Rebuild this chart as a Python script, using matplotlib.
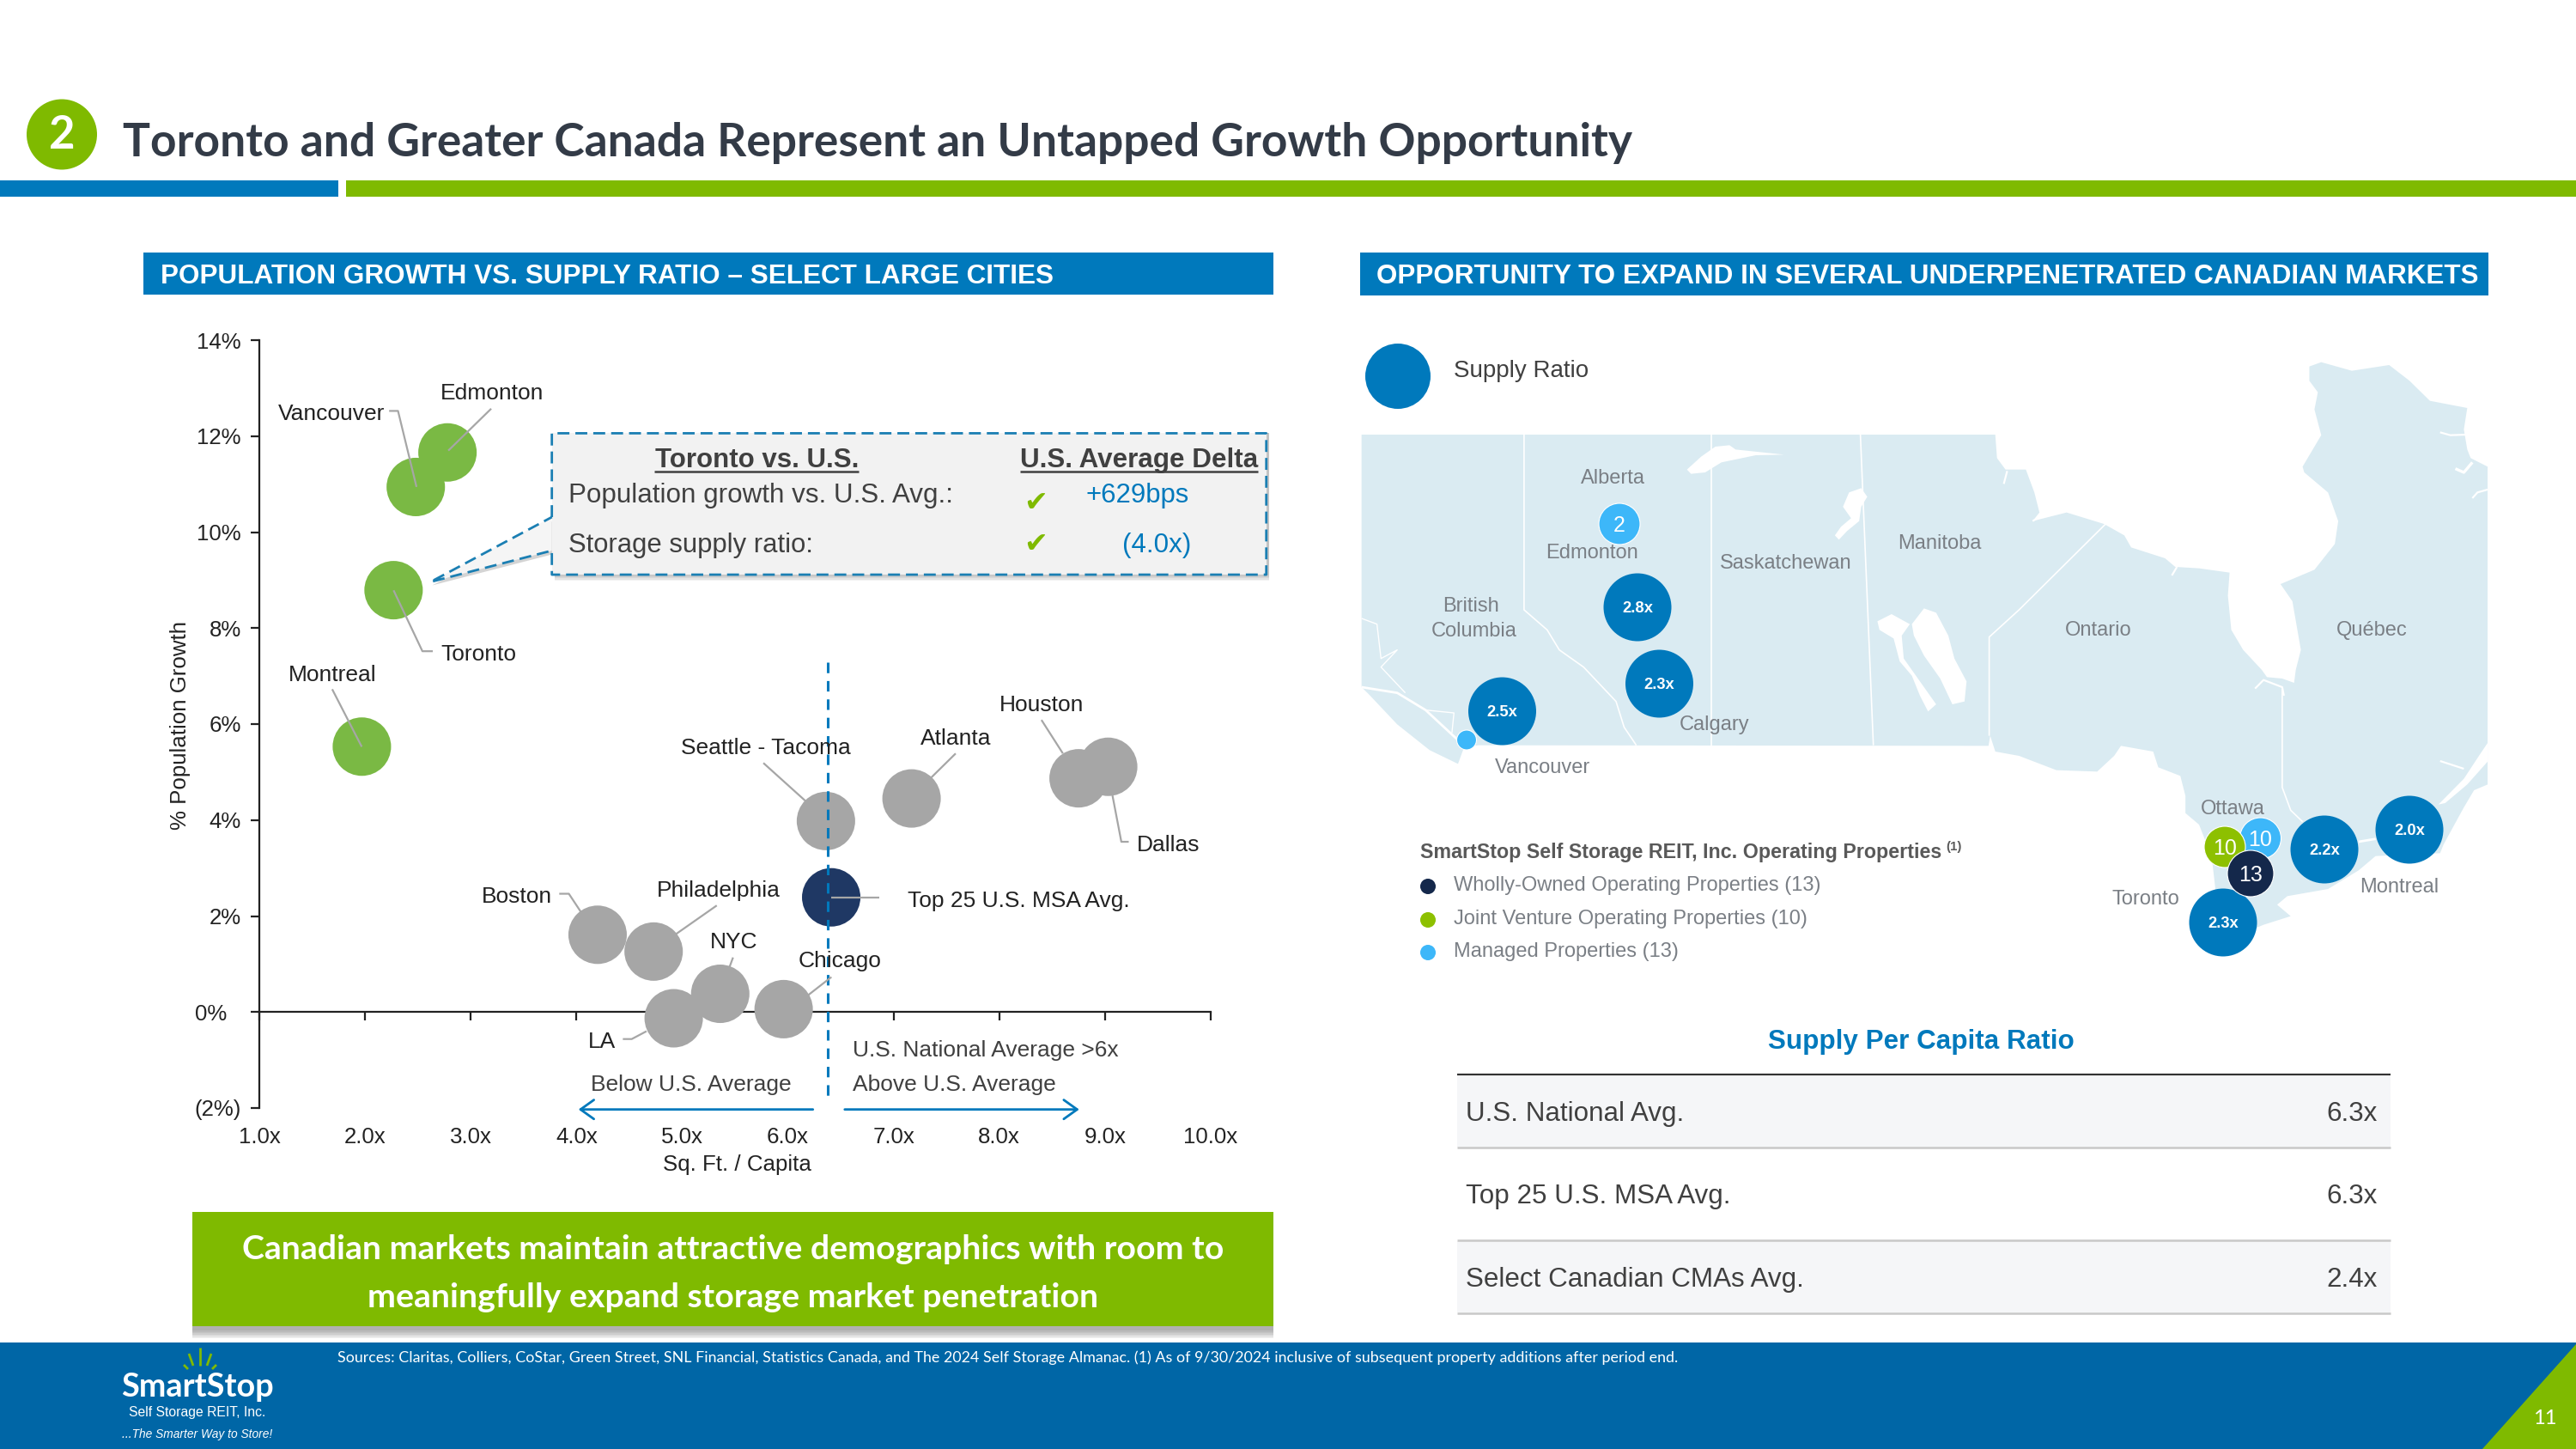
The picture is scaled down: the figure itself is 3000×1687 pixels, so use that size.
import matplotlib
matplotlib.use("Agg")
import matplotlib.pyplot as plt
from matplotlib.patches import Circle, Rectangle, Polygon, FancyArrowPatch
from matplotlib.transforms import ScaledTranslation

# ---------- data ----------
cities = ["Edmonton", "Vancouver", "Toronto", "Montreal", "Seattle - Tacoma", "Atlanta", "Houston", "Dallas",
          "Top 25 U.S. MSA Avg.", "Boston", "Philadelphia", "NYC", "LA", "Chicago"]
sqft_per_capita = [2.78, 2.48, 2.27, 1.97, 6.36, 7.17, 8.75, 9.03, 6.41, 4.20, 4.73, 5.36, 4.92, 5.96]
pop_growth = [11.66, 10.94, 8.79, 5.53, 3.98, 4.45, 4.87, 5.11, 2.39, 1.61, 1.26, 0.38, -0.13, 0.06]
groups = ["ca", "ca", "ca", "ca", "us", "us", "us", "us", "avg", "us", "us", "us", "us", "us"]
x_ticks = [1, 2, 3, 4, 5, 6, 7, 8, 9, 10]
x_tick_labels = ["1.0x", "2.0x", "3.0x", "4.0x", "5.0x", "6.0x", "7.0x", "8.0x", "9.0x", "10.0x"]
y_ticks = [-2, 0, 2, 4, 6, 8, 10, 12, 14]
y_tick_labels = ["(2%)", "0%", "2%", "4%", "6%", "8%", "10%", "12%", "14%"]
table_rows = ["U.S. National Avg.", "Top 25 U.S. MSA Avg.", "Select Canadian CMAs Avg."]
table_values = ["6.3x", "6.3x", "2.4x"]
legend_entries = ["Wholly-Owned Operating Properties (13)", "Joint Venture Operating Properties (10)",
                  "Managed Properties (13)"]
map_ratio_labels = ["2.8x", "2.3x", "2.5x", "2.0x", "2.2x", "2.3x"]
map_count_labels = ["2", "", "13", "10", "10"]

BLUE = "#0079BC"; GREEN = "#7FBA00"; DARK = "#333B47"
FOOT = "#0066A6"; MAPC = "#DAEBF2"; NAVY = "#14284B"; SKY = "#3DB7F9"; LIME = "#8DC000"
colors = {"ca": "#7AB944", "us": "#A6A6A6", "avg": "#1F3864"}
SANS = "Liberation Sans"
FS = 9.5

fig = plt.figure(figsize=(15, 8.435), dpi=200, facecolor="white")
W, H = 3000, 1687
plt.rcParams["font.family"] = SANS

# ---------- chart ----------
L, R, T, B = 302, 1410, 396, 1290
ax = fig.add_axes([L / W, 1 - B / H, (R - L) / W, (B - T) / H])
ax.set_xlim(1, 10); ax.set_ylim(-2, 14)
ax.patch.set_alpha(0)
for s in ("top", "right"):
    ax.spines[s].set_visible(False)
ax.spines["bottom"].set_position(("data", 0))
for s in ("bottom", "left"):
    ax.spines[s].set_linewidth(0.8); ax.spines[s].set_color("#222222")
ax.set_xticks(x_ticks); ax.set_xticklabels(x_tick_labels, fontsize=9.3, color="#222222")
ax.set_yticks(y_ticks); ax.set_yticklabels(y_tick_labels, fontsize=9.3, color="#222222")
ax.tick_params(axis="x", length=3.6, width=0.8, pad=44.5, color="#222222")
ax.tick_params(axis="y", length=3.6, width=0.8, pad=4, color="#222222")
for lab, s in zip(ax.get_yticklabels(), y_tick_labels):
    if s == "0%":
        lab.set_transform(lab.get_transform() + ScaledTranslation(-6 / 72, 0, fig.dpi_scale_trans))
ax.scatter(sqft_per_capita, pop_growth, s=600, c=[colors[g] for g in groups], linewidths=0, zorder=3, clip_on=False)

# ---------- overlay in pixel coordinates ----------
ov = fig.add_axes([0, 0, 1, 1], zorder=5)
ov.set_xlim(0, W); ov.set_ylim(H, 0); ov.axis("off"); ov.patch.set_alpha(0)
renderer = fig.canvas.get_renderer()


def z1(x, y):
    return 150 + x / 1.161, 360 + y / 1.537


def z2(x, y):
    return 1570 + x / 1.12, 370 + y / 2.01


def ze1(x, y):
    return 2300 + x / 2.529, 400 + y / 3


def ze2(x, y):
    return 2300 + x / 2.529, 780 + y / 3


def zw(x, y):
    return 1580 + x / 2.119, 500 + y / 3


def txt(x, y, s, size=FS, color="#222222", ha="center", va="center", width=None, **kw):
    t = ov.text(x, y + 2, s, fontsize=size, color=color, ha=ha, va=va, family=kw.pop("family", SANS), **kw)
    if width:
        w = t.get_window_extent(renderer).width
        t.set_fontsize(size * width / w)
    return t


def rect(x0, y0, x1, y1, color, **kw):
    ov.add_patch(Rectangle((x0, y0), x1 - x0, y1 - y0, facecolor=color, edgecolor="none", **kw))


def shadow(x0, y0, x1, y1, offx=2, offy=7, n=7):
    for i in range(n):
        rect(x0 + offx, y0, x1 + offx, y1 + offy + i * 1.5 - 3, "#444444", alpha=0.07)


def line(pts, color="#A6A6A6", lw=0.8, **kw):
    ov.plot([p[0] for p in pts], [p[1] for p in pts], color=color, lw=lw, solid_capstyle="butt", **kw)


# header
ov.add_patch(Circle((72, 156.5), 41, facecolor=GREEN, edgecolor="none"))
txt(72, 155, "2", size=19, color="white", family="Lato", fontweight="bold")
txt(143, 164, "Toronto and Greater Canada Represent an Untapped Growth Opportunity", size=20, color=DARK,
    ha="left", family="Lato", fontweight="bold", width=1761)
rect(0, 210, 394, 228.5, BLUE)
rect(403, 210, W, 228.5, GREEN)

# section headers
rect(167, 294, 1483, 343, BLUE)
rect(1584, 294, 2898, 344, BLUE)
txt(187, 320, "POPULATION GROWTH VS. SUPPLY RATIO – SELECT LARGE CITIES", size=11, color="white", ha="left",
    fontweight="bold", width=1039)
txt(1603, 319.5, "OPPORTUNITY TO EXPAND IN SEVERAL UNDERPENETRATED CANADIAN MARKETS", size=11, color="white",
    ha="left", fontweight="bold", width=1278)

# chart annotations
labels = {
    "Edmonton": ((491, 148), [(490, 178), (432, 253)]),
    "Vancouver": ((274, 184), [(352, 182), (364, 182), (389, 318)]),
    "Toronto": ((473, 615), [(358, 503), (397, 612), (411, 612)]),
    "Montreal": ((275, 652), [(275, 680), (315, 783)]),
    "Seattle - Tacoma": ((861, 783), [(858, 812), (915, 880)]),
    "Atlanta": ((1118, 766), [(1118, 795), (1085, 838)]),
    "Houston": ((1234, 706), [(1234, 735), (1263, 795)]),
    "Dallas": ((1405, 956), [(1330, 870), (1342, 953), (1352, 953)]),
    "Top 25 U.S. MSA Avg.": ((1203, 1056), [(950, 1053), (1015, 1053)]),
    "Boston": ((525, 1049), [(582, 1046), (595, 1046), (612, 1080)]),
    "Philadelphia": ((797, 1038), [(795, 1067), (740, 1118)]),
    "NYC": ((818, 1130), [(817, 1160), (812, 1178)]),
    "Chicago": ((961, 1163), [(950, 1195), (918, 1228)]),
    "LA": ((640, 1308), [(668, 1306), (680, 1306), (700, 1292)]),
}
line([z1(945, 632), z1(945, 1420)], color=BLUE, lw=1.1, linestyle=(0, (4, 3)))
for c in cities:
    (lx, ly), pts = labels[c]
    line([z1(*p) for p in pts])
    txt(*z1(lx, ly), c)
for x, y, s in [(1158, 1323, "U.S. National Average >6x"), (1116, 1385, "Above U.S. Average"),
                (760, 1385, "Below U.S. Average")]:
    txt(*z1(x, y), s, color="#404040")
for a, b in [((925, 1432), (608, 1432)), ((968, 1432), (1285, 1432))]:
    ov.add_patch(FancyArrowPatch(z1(*a), z1(*b), arrowstyle="->,head_length=3.5,head_width=2.5", color=BLUE,
                                 lw=1.0, shrinkA=0, shrinkB=0, mutation_scale=1.6))
txt(*z1(70, 742), "% Population Growth", size=9.3, rotation=90)
txt(*z1(822, 1528), "Sq. Ft. / Capita", size=9.3)

# callout
bx0, by0 = z1(572, 222); bx1, by1 = z1(1538, 475)
shadow(bx0, by0, bx1, by1, offx=3, offy=4, n=5)
ptr = [z1(572, 372), z1(408, 488), z1(572, 432)]
ov.add_patch(Polygon([(p[0] + 2, p[1] + 4) for p in ptr], closed=True, facecolor="#555555", alpha=0.25, edgecolor="none"))
ov.add_patch(Polygon(ptr, closed=True, facecolor="#F5F5F5", edgecolor="none"))
rect(bx0, by0, bx1, by1, "#F2F2F2")
dash = dict(color="#1B7FB3", lw=1.0, linestyle=(0, (5, 2.5)))
line([z1(572, 372), z1(572, 222), z1(1538, 222), z1(1538, 475), z1(572, 475), z1(572, 432), z1(408, 488),
      z1(572, 372)], **dash)
for (x, y), s, w in [((849, 267), "Toronto vs. U.S.", 238), ((1366, 267), "U.S. Average Delta", 277)]:
    txt(*z1(x, y), s, size=10.5, color="#404040", fontweight="bold", width=w)
    cx, cy = z1(x, y)
    line([(cx - w / 2, cy + 15), (cx + w / 2, cy + 15)], color="#404040", lw=0.9)
txt(*z1(594, 330), "Population growth vs. U.S. Avg.:", size=10.5, color="#404040", ha="left", width=447)
txt(*z1(594, 420), "Storage supply ratio:", size=10.5, color="#404040", ha="left", width=285)
for y in (343, 417):
    txt(*z1(1226, y), "\u2714", size=12, color=GREEN, family="DejaVu Sans")
txt(*z1(1364, 330), "+629bps", size=10.5, color=BLUE, width=120)
txt(*z1(1390, 420), "(4.0x)", size=10.5, color=BLUE, width=80)

# green banner
shadow(224, 1411, 1483, 1544, offx=0, offy=8)
rect(224, 1411, 1483, 1544, GREEN)
txt(854, 1453, "Canadian markets maintain attractive demographics with room to", size=14, color="white",
    family="Lato", fontweight="bold", width=1144)
txt(854, 1508, "meaningfully expand storage market penetration", size=14, color="white", family="Lato",
    fontweight="bold", width=850)

# ---------- map ----------
ov.add_patch(Circle((1628, 438), 38, facecolor=BLUE, edgecolor="none"))
txt(1693, 429.5, "Supply Ratio", size=10, color="#404040", ha="left")

outline = [zw(*p) for p in [(12, 18)]]
outline += [ze1(*p) for p in [
    (60, 318), (60, 320), (65, 400), (90, 440), (150, 440), (175, 520), (190, 590), (170, 620), (270, 590),
    (380, 630), (440, 670), (460, 712), (560, 750), (590, 780), (660, 785), (750, 800), (745, 880), (755, 1000),
    (790, 1070), (845, 1140)]]
outline += [ze2(*p) for p in [(860, 25), (905, 30), (940, 45), (945, 0)]]
outline += [ze1(*p) for p in [
    (960, 1070), (935, 900), (900, 840), (1000, 790), (1060, 700), (1070, 620), (1040, 520), (970, 450),
    (965, 430), (1020, 320), (1000, 230), (1010, 170), (985, 130), (985, 80), (1020, 65), (1110, 95), (1220, 75),
    (1280, 130), (1340, 200), (1450, 225), (1440, 300), (1450, 370), (1460, 400), (1510, 430)]]
outline += [ze2(*p) for p in [
    (1510, 0), (1510, 400), (1470, 420), (1440, 480), (1380, 610), (1370, 640), (1180, 650), (1130, 700),
    (1040, 765), (920, 790), (890, 820), (930, 860), (850, 890), (830, 900), (730, 990), (700, 680), (680, 600),
    (660, 540), (620, 500), (620, 440), (605, 370), (540, 340), (525, 285), (430, 265), (410, 300), (360, 355),
    (240, 350), (130, 300), (60, 285), (45, 230), (40, 265)]]
outline += [zw(*p) for p in [(300, 1103), (265, 1110), (250, 1168), (180, 1120), (100, 1030), (30, 925), (12, 900)]]
ov.add_patch(Polygon(outline, closed=True, facecolor=MAPC, edgecolor="none"))

lakes_w = [
    [(815, 140), (850, 95), (885, 60), (920, 55), (935, 70), (1055, 88), (985, 90), (900, 115), (860, 150), (825, 155)],
    [(1180, 370), (1195, 340), (1220, 310), (1200, 270), (1215, 220), (1245, 205), (1260, 235), (1245, 270),
     (1240, 320), (1210, 355), (1190, 385)],
    [(1370, 680), (1400, 625), (1430, 640), (1460, 720), (1475, 800), (1505, 880), (1500, 950), (1470, 960),
     (1440, 870), (1400, 790), (1375, 720)],
    [(1285, 670), (1320, 645), (1365, 680), (1345, 720), (1350, 800), (1380, 860), (1430, 960), (1410, 985),
     (1390, 930), (1370, 860), (1340, 810), (1325, 730), (1290, 700)]]
for lk in lakes_w:
    ov.add_patch(Polygon([zw(*p) for p in lk], closed=True, facecolor="white", edgecolor="none"))
ov.add_patch(Polygon([ze2(*p) for p in [(1365, 470), (1440, 380), (1490, 290), (1510, 255), (1510, 320), (1450, 400),
                                        (1385, 465)]], closed=True, facecolor="white", edgecolor="none"))
line([zw(*p) for p in [(12, 900), (100, 920), (170, 980), (250, 1085)]], color="white", lw=1.0)
line([zw(*p) for p in [(12, 660), (50, 680), (60, 800), (100, 770), (60, 830), (120, 920)]], color="white", lw=0.5)
line([zw(*p) for p in [(170, 980), (240, 990), (235, 1060)]], color="white", lw=0.5)
line([ze1(*p) for p in [(1370, 310), (1400, 320), (1450, 318)]], color="white", lw=0.8)
line([ze1(*p) for p in [(1415, 437), (1440, 450), (1465, 415)]], color="white", lw=1.2)
line([ze1(*p) for p in [(1465, 540), (1480, 520), (1510, 510)]], color="white", lw=0.8)
line([ze1(*p) for p in [(170, 620), (190, 605)]], color="white", lw=0.8)
line([ze1(*p) for p in [(85, 490), (95, 445)]], color="white", lw=0.8)
line([ze1(*p) for p in [(580, 810), (595, 780)]], color="white", lw=0.8)
line([ze2(*p) for p in [(1370, 318), (1440, 345)]], color="white", lw=0.8)
line([ze2(*p) for p in [(825, 65), (850, 35), (905, 60), (910, 90)]], color="white", lw=0.8)
line([ze2(*p) for p in [(1130, 600), (1180, 590)]], color="white", lw=1.0)
borders = [
    [zw(*p) for p in [(413, 18), (413, 630), (470, 700), (500, 770), (560, 830), (640, 950), (660, 1040), (690, 1103)]],
    [zw(*p) for p in [(876, 18), (876, 1103)]],
    [zw(*p) for p in [(1243, 18), (1275, 1103)]],
    [ze1(*p) for p in [(385, 630), (130, 930), (42, 1025)]] + [ze2(*p) for p in [(42, 0), (42, 230)]],
    [ze2(*p) for p in [(905, 60), (905, 410), (930, 490), (965, 530)]],
]
for b in borders:
    line(b, color="white", lw=0.6)

for x, y, s in [(346, 372, "Alberta"), (318, 546, "Edmonton"), (571, 571, "Saskatchewan"), (771, 525, "Manitoba"),
                (160, 672, "British"), (164, 729, "Columbia"), (978, 727, "Ontario"), (1335, 727, "Québec"),
                (478, 949, "Calgary"), (254, 1050, "Vancouver"), (1154, 1145, "Ottawa"), (1040, 1357, "Toronto"),
                (1371, 1328, "Montreal")]:
    txt(*z2(x, y), s, size=8.5, color="#7A7F85")

ratio_pos = [(1907, 707), (1932.5, 796), (1749.5, 828), (2806, 966), (2707, 989), (2589, 1074)]
for (x, y), s in zip(ratio_pos, map_ratio_labels):
    ov.add_patch(Circle((x, y), 39.5, facecolor=BLUE, edgecolor="none", zorder=4))
    txt(x, y - 1, s, size=6.6, color="white", fontweight="bold", zorder=5)
count_pos = [(1886, 610), (1708, 861.5), (2621, 1017), (2591, 986), (2632.5, 976)]
count_col = [SKY, SKY, NAVY, LIME, SKY]
count_rad = [24, 11.5, 27, 24, 24]
order = [0, 1, 4, 3, 2]
for i in order:
    ov.add_patch(Circle(count_pos[i], count_rad[i], facecolor=count_col[i], edgecolor="white", lw=0.4, zorder=4))
    txt(*count_pos[i], map_count_labels[i], size=9, color="white", zorder=5)

# map legend
txt(1654, 990, "SmartStop Self Storage REIT, Inc. Operating Properties", size=7.3, color="#595959", ha="left",
    fontweight="bold", width=607)
txt(2275, 984, "(1)", size=5.4, color="#595959", ha="center", fontweight="bold")
for y, s, c in zip((1029, 1068, 1106), legend_entries, (NAVY, LIME, SKY)):
    ov.add_patch(Circle((1663, y + 3), 9, facecolor=c, edgecolor="none"))
    txt(1693, y, s, size=8.5, color="#7A7F85", ha="left")

# ---------- table ----------
txt(2237, 1211, "Supply Per Capita Ratio", size=11.3, color=BLUE, fontweight="bold")
rect(1697, 1253, 2784, 1336, "#F5F6F8")
rect(1697, 1445, 2784, 1528, "#F5F6F8")
line([(1697, 1251), (2784, 1251)], color="#333333", lw=0.8)
for y in (1336, 1444, 1529):
    line([(1697, y), (2784, y)], color="#C8C8C8", lw=0.9)
for y, a, b in zip((1295, 1391, 1488), table_rows, table_values):
    txt(1707, y, a, size=11.3, color="#404040", ha="left")
    txt(2769, y, b, size=11.3, color="#404040", ha="right")

# ---------- footer ----------
rect(0, 1563, W, H, FOOT)
ov.add_patch(Polygon([(W, 1565), (W, H), (2891, H)], closed=True, facecolor=GREEN, edgecolor="none"))
txt(2964, 1649, "11", size=8.5, color="white", family="Lato")
txt(393, 1579, "Sources: Claritas, Colliers, CoStar, Green Street, SNL Financial, Statistics Canada, and The 2024 "
    "Self Storage Almanac. (1) As of 9/30/2024 inclusive of subsequent property additions after period end.",
    size=5.5, color="white", ha="left", family="Lato", width=1563)
txt(230, 1613, "SmartStop", size=14, color="white", family="Lato", fontweight="bold", width=178)
txt(230, 1643, "Self Storage REIT, Inc.", size=6, color="white", width=160)
txt(230, 1668, "...The Smarter Way to Store!", size=5, color="white", style="italic", width=175)
for dx0, dy0, dx1, dy1 in [(233, 1590, 233, 1569), (225, 1590, 220, 1576), (241, 1590, 246, 1576),
                           (219, 1594, 214, 1589), (247, 1594, 252, 1589)]:
    line([(dx0, dy0), (dx1, dy1)], color=GREEN, lw=1.0)

fig.savefig("out.png", dpi=200)
